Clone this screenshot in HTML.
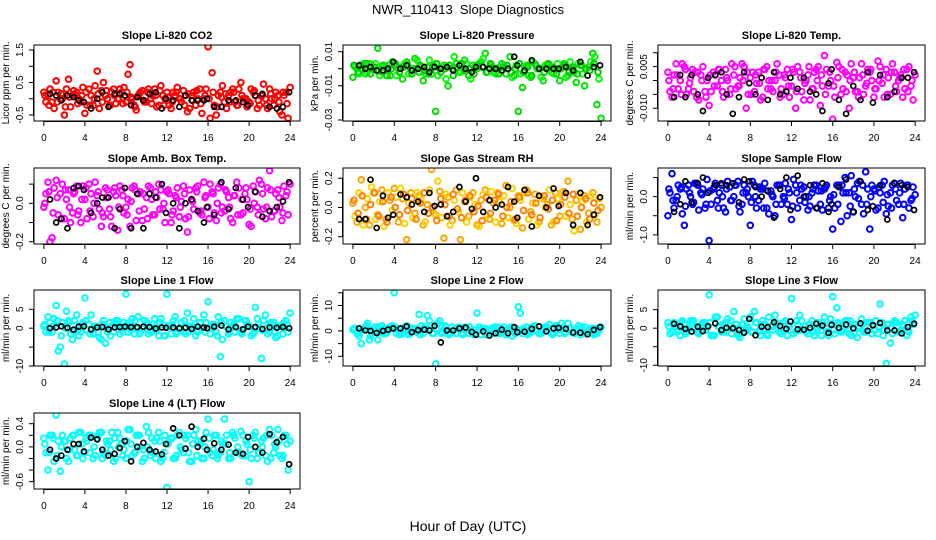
<!DOCTYPE html>
<html><head><meta charset="utf-8"><style>
body{margin:0;background:#fff}
svg{display:block;font-family:"Liberation Sans",sans-serif}
</style></head><body>
<svg id="chart" width="936" height="540" viewBox="0 0 936 540">
<text x="468" y="14" text-anchor="middle" font-size="13">NWR_110413&#160;&#160;Slope Diagnostics</text>
<text x="468" y="531" text-anchor="middle" font-size="14">Hour of Day (UTC)</text>
</svg>
<script>
const hoursA=[0,0.4,0.8,1.2,1.6,2,2.4,2.8,3.2,3.6,4,4.4,4.8,5.2,5.6,6,6.4,6.8,7.2,7.6,8,8.4,8.8,9.2,9.6,10,10.4,10.8,11.2,11.6,12,12.4,12.8,13.2,13.6,14,14.4,14.8,15.2,15.6,16,16.4,16.8,17.2,17.6,18,18.4,18.8,19.2,19.6,20,20.4,20.8,21.2,21.6,22,22.4,22.8,23.2,23.6,24];
const hoursB=[0.2,0.6,1,1.4,1.8,2.2,2.6,3,3.4,3.8,4.2,4.6,5,5.4,5.8,6.2,6.6,7,7.4,7.8,8.2,8.6,9,9.4,9.8,10.2,10.6,11,11.4,11.8,12.2,12.6,13,13.4,13.8,14.2,14.6,15,15.4,15.8,16.2,16.6,17,17.4,17.8,18.2,18.6,19,19.4,19.8,20.2,20.6,21,21.4,21.8,22.2,22.6,23,23.4,23.8];
const hoursC=[0.1,0.5,0.9,1.3,1.7,2.1,2.5,2.9,3.3,3.7,4.1,4.5,4.9,5.3,5.7,6.1,6.5,6.9,7.3,7.7,8.1,8.5,8.9,9.3,9.7,10.1,10.5,10.9,11.3,11.7,12.1,12.5,12.9,13.3,13.7,14.1,14.5,14.9,15.3,15.7,16.1,16.5,16.9,17.3,17.7,18.1,18.5,18.9,19.3,19.7,20.1,20.5,20.9,21.3,21.7,22.1,22.5,22.9,23.3,23.7];
const blackHours=[0.6,1.2,1.7,2.3,2.9,3.4,3.9,4.6,5.2,5.7,6.3,6.9,7.4,7.9,8.5,9.1,9.7,10.3,10.9,11.5,11.9,12.6,13.2,13.8,14.4,15.0,15.6,15.9,16.6,17.3,18.0,18.7,19.4,19.9,20.6,21.3,22.0,22.7,23.3,23.9];
const xTicks=[0,4,8,12,16,20,24];

const co2A=[0.2,0.1,-0.1,0.55,0.0,-0.5,0.6,0.1,0.2,-0.1,-0.45,0.3,-0.2,0.85,0.25,0.1,-0.2,0.3,0.0,0.2,-0.1,1.05,-0.2,0.1,0.25,-0.1,0.0,0.3,-0.2,0.1,0.2,-0.3,0.1,0.0,0.25,-0.4,0.1,-0.2,0.3,0.0,1.6,0.8,-0.5,0.2,-0.1,0.1,0.3,-0.2,0.5,0.0,-0.1,0.2,-0.3,0.1,0.0,0.3,-0.2,0.1,-0.5,0.2,0.35];
const co2B=[-0.1,0.3,-0.3,0.2,0.0,0.3,-0.25,0.15,0.0,0.35,-0.2,0.1,0.4,-0.3,0.5,0.0,0.2,-0.15,0.3,0.35,0.75,0.0,-0.35,0.2,-0.1,0.3,0.1,-0.25,0.4,0.0,-0.2,0.2,0.35,-0.1,0.1,-0.3,0.2,0.0,-0.45,0.3,-0.6,-0.2,0.1,0.4,-0.3,0.2,-0.1,0.3,0.0,-0.25,0.3,0.1,-0.2,0.45,-0.3,0.0,0.2,-0.4,0.1,-0.6];
const co2C=[0.1,-0.2,0.2,-0.1,0.15,-0.25,0.05,0.25,-0.15,0.1,0.2,-0.2,0.0,0.15,-0.1,0.25,-0.2,0.1,0.0,-0.15,0.2,0.05,-0.25,0.15,-0.05,0.2,-0.15,0.1,0.25,-0.2,0.05,-0.1,0.2,0.0,-0.2,0.15,-0.05,0.25,-0.15,0.1,0.0,0.2,-0.25,0.05,0.15,-0.1,0.2,-0.2,0.1,0.0,-0.15,0.25,-0.05,0.1,-0.2,0.15,0.0,-0.1,0.2,-0.15];
const co2K=[0.15,0.1,-0.05,0.1,0.05,-0.05,-0.1,-0.3,0.0,0.2,-0.25,0.15,0.15,0.1,-0.2,0.05,-0.05,0.15,0.2,-0.3,0.0,-0.05,-0.25,0.1,-0.05,-0.05,-0.05,0.0,-0.25,-0.25,-0.05,-0.05,-0.1,-0.2,0.1,0.15,-0.25,-0.3,-0.25,0.2];

const presA=[-0.005,0.0,0.002,-0.003,0.003,0.0,0.012,-0.002,0.001,-0.004,0.002,0.0,-0.006,0.004,0.0,0.006,-0.002,-0.007,0.001,-0.003,-0.025,0.0,0.002,-0.01,0.0,0.003,-0.002,0.005,-0.004,0.002,0.0,0.004,0.009,0.001,-0.002,0.0,0.003,-0.003,0.007,-0.004,-0.025,-0.011,0.002,-0.005,0.003,0.0,-0.007,0.002,-0.002,0.0,-0.007,0.003,-0.004,0.0,-0.008,0.002,-0.01,0.001,0.009,-0.021,-0.029];
const presB=[0.001,-0.003,0.003,-0.002,0.0,0.003,-0.004,0.001,0.002,0.004,-0.004,0.001,0.003,-0.003,0.0,0.005,0.001,-0.003,0.005,0.002,-0.004,0.001,-0.006,0.002,0.007,-0.002,0.0,0.003,-0.006,0.001,0.003,0.006,-0.002,0.002,-0.003,0.001,0.002,0.0,-0.005,0.002,-0.003,0.001,-0.004,0.004,0.0,-0.005,0.002,0.0,-0.003,0.003,0.001,-0.005,0.004,-0.002,0.003,-0.003,0.0,0.004,0.007,-0.006];
const presC=[0.002,-0.002,0.0,0.003,-0.003,0.001,-0.001,0.002,-0.004,0.0,0.003,-0.002,0.001,0.002,-0.003,0.0,0.002,-0.001,-0.003,0.001,0.003,-0.002,0.0,0.002,-0.004,0.001,0.003,-0.001,0.0,-0.003,0.002,0.001,-0.002,0.003,0.0,-0.003,0.001,0.002,-0.002,0.0,0.003,-0.002,0.001,-0.004,0.002,0.0,-0.002,0.003,0.001,-0.003,0.0,0.002,-0.002,0.001,-0.003,0.002,0.0,-0.001,0.003,-0.002];
const presK=[0.002,0.0,0.001,-0.001,-0.001,0.0,0.004,0.0,0.002,-0.001,0.0,0.001,-0.002,0.001,0.0,0.001,-0.001,0.002,0.0,-0.002,0.001,0.001,0.0,0.0,-0.001,0.0,0.007,0.002,-0.001,0.005,0.0,0.0,0.0,0.0,0.001,-0.001,0.004,-0.004,0.001,0.002];

const tempA=[0.003,-0.006,0.006,0.0,0.005,-0.003,0.004,-0.006,0.002,-0.004,-0.009,0.003,-0.002,0.0,0.004,-0.005,0.002,-0.002,0.006,-0.01,0.001,-0.004,0.003,-0.006,0.005,-0.003,0.0,0.002,-0.005,0.004,-0.002,-0.01,0.003,-0.007,0.002,-0.003,0.004,-0.009,0.009,-0.002,-0.014,0.0065,-0.005,0.003,-0.01,0.001,-0.004,0.006,-0.002,0.003,-0.006,0.007,-0.001,0.004,-0.005,0.003,0.0,-0.006,0.004,-0.002,0.002];
const tempB=[-0.004,0.002,-0.003,0.006,-0.005,0.001,0.003,-0.007,0.005,0.0,-0.004,0.002,0.004,-0.006,0.0,0.006,-0.003,0.001,0.005,-0.005,0.003,-0.001,-0.007,0.004,0.0,-0.004,0.006,-0.003,0.001,-0.006,0.003,0.005,-0.004,0.0,-0.007,0.003,0.005,-0.002,0.004,0.0,-0.006,0.005,-0.003,0.002,0.006,-0.004,0.001,-0.005,0.004,0.0,-0.003,0.005,-0.006,0.001,0.006,-0.004,0.002,-0.003,0.005,-0.007];
const tempC=[0.0,-0.003,0.002,-0.005,0.004,-0.001,-0.004,0.003,0.0,-0.006,0.002,-0.002,0.004,-0.004,0.001,-0.003,0.005,-0.002,0.0,0.003,-0.005,0.002,-0.001,0.004,-0.003,0.0,0.003,-0.006,0.002,-0.002,0.004,-0.004,0.001,-0.001,0.005,-0.003,0.0,0.002,-0.005,0.003,-0.002,0.001,0.004,-0.004,0.0,0.003,-0.006,0.002,-0.001,0.004,-0.003,0.0,0.002,-0.005,0.003,-0.002,0.001,0.004,-0.004,0.0];
const tempK=[-0.006,0.002,-0.006,0.002,-0.005,-0.011,0.001,0.002,0.003,-0.005,-0.012,-0.006,0.003,-0.001,-0.005,0.001,-0.007,0.003,-0.005,-0.004,0.001,-0.003,0.001,-0.004,-0.005,-0.011,-0.001,0.004,-0.007,-0.012,-0.002,-0.007,0.003,-0.008,0.002,-0.006,-0.004,0.001,0.001,0.003];

const ambA=[-0.02,0.11,-0.18,0.12,0.05,-0.08,0.07,-0.05,0.09,-0.1,0.02,0.1,-0.07,0.04,-0.12,0.08,-0.03,0.06,-0.14,0.07,-0.02,-0.12,0.09,0.05,-0.09,0.03,0.08,-0.06,0.1,-0.03,0.06,-0.1,0.04,-0.07,0.09,-0.15,0.02,0.08,-0.05,0.11,-0.02,0.06,-0.09,0.1,-0.04,0.03,-0.1,0.11,-0.06,0.05,-0.11,0.09,-0.02,0.1,-0.08,0.17,-0.04,0.07,-0.09,0.04,0.1];
const ambB=[0.05,-0.2,0.08,-0.06,0.1,0.02,-0.1,0.06,-0.04,0.09,-0.08,0.05,0.11,-0.03,-0.07,0.07,-0.12,0.04,0.09,-0.05,0.02,0.08,-0.09,0.06,-0.03,0.09,-0.06,0.03,0.07,-0.1,0.05,-0.04,0.08,0.01,-0.08,0.07,-0.03,0.09,-0.06,0.04,0.1,-0.05,0.08,-0.02,0.06,-0.08,0.04,0.08,-0.05,0.02,-0.12,0.06,0.12,-0.03,0.08,-0.07,0.05,-0.02,0.09,-0.06];
const ambC=[0.0,0.06,-0.05,0.03,-0.08,0.07,-0.02,0.05,-0.06,0.02,0.08,-0.04,0.0,0.06,-0.05,0.03,-0.07,0.08,-0.02,0.04,-0.06,0.01,0.07,-0.04,0.05,-0.08,0.02,0.06,-0.03,0.0,0.07,-0.06,0.03,-0.02,0.05,-0.07,0.01,0.06,-0.04,0.03,-0.08,0.05,0.0,-0.05,0.07,-0.02,0.04,-0.06,0.02,0.08,-0.03,0.0,-0.06,0.05,-0.02,0.07,-0.04,0.03,-0.05,0.06];
const ambK=[0.02,-0.1,-0.08,-0.13,0.08,0.09,0.07,-0.05,0.0,0.03,0.03,-0.13,-0.03,0.08,-0.13,0.05,-0.13,0.05,0.03,0.1,-0.05,0.0,-0.13,0.0,0.02,-0.04,-0.1,-0.02,-0.06,0.11,-0.03,0.08,0.02,-0.02,0.06,-0.07,-0.04,-0.02,0.01,0.11];

const rhA=[0.03,-0.1,0.19,0.0,-0.12,0.1,-0.05,0.12,-0.08,0.05,0.13,-0.1,0.06,-0.22,0.1,-0.04,0.08,-0.12,0.02,0.26,-0.05,0.11,-0.21,0.07,-0.09,0.12,-0.22,0.04,-0.06,0.1,-0.12,0.05,0.12,-0.08,0.03,0.1,-0.11,0.15,0.0,-0.09,0.08,-0.14,0.12,-0.03,0.09,-0.1,0.06,0.02,-0.12,0.1,-0.06,0.11,0.18,-0.08,0.05,-0.15,0.08,-0.04,0.1,-0.1,0.0];
const rhB=[-0.06,0.1,-0.12,0.06,0.14,-0.08,0.04,-0.13,0.1,-0.02,0.07,0.13,-0.11,0.03,-0.07,0.1,0.05,-0.1,0.12,-0.04,0.18,-0.07,0.09,-0.12,0.05,-0.03,0.1,-0.1,0.07,0.02,-0.13,0.09,-0.06,0.11,-0.1,0.04,0.08,-0.07,0.13,-0.11,0.05,0.1,-0.08,0.03,-0.12,0.07,0.0,0.12,-0.1,0.06,0.1,-0.06,0.02,-0.16,0.09,0.04,-0.1,0.08,-0.05,0.06];
const rhC=[0.05,-0.04,0.08,-0.08,0.02,0.1,-0.06,0.04,-0.1,0.07,0.0,-0.05,0.09,-0.02,0.06,-0.08,0.03,0.1,-0.04,0.0,-0.09,0.06,0.02,-0.06,0.09,-0.01,-0.07,0.05,0.08,-0.03,0.01,-0.09,0.07,-0.04,0.05,0.09,-0.06,0.0,0.04,-0.08,0.07,-0.02,0.1,-0.05,0.03,-0.07,0.08,-0.01,0.05,-0.09,0.02,0.07,-0.04,0.09,-0.06,0.0,0.06,-0.08,0.03,-0.02];
const rhK=[-0.08,-0.08,0.19,-0.14,0.08,-0.07,-0.05,0.09,0.07,0.02,0.04,-0.03,0.1,0.01,0.02,-0.06,-0.03,0.14,0.04,-0.01,0.2,-0.03,0.05,0.0,0.02,0.14,0.04,-0.07,0.12,-0.13,0.08,0.0,0.13,0.01,0.1,-0.12,0.1,-0.12,-0.05,0.07];

const sfA=[-0.5,0.6,-0.1,0.2,-0.75,0.3,-0.2,0.35,0.1,-0.3,-1.15,0.2,-0.1,0.3,-0.4,0.25,0.0,0.4,-0.2,0.1,-0.75,0.3,-0.1,0.2,-0.3,0.15,-0.5,0.3,0.0,-0.2,-0.6,0.3,-0.1,0.25,-0.35,0.1,0.3,-0.2,0.2,-0.3,-0.85,0.3,-0.65,0.5,0.1,-0.4,0.35,-0.2,0.65,-0.85,0.2,-0.3,0.3,-0.45,0.1,0.35,-0.2,-0.55,0.3,-0.1,0.05];
const sfB=[0.1,-0.3,0.3,-0.45,0.2,0.0,0.35,-0.35,0.2,0.45,-0.2,0.35,0.1,-0.3,0.4,-0.1,0.3,-0.4,0.3,0.0,0.4,-0.3,0.2,0.35,-0.45,0.0,0.3,-0.2,0.35,0.1,0.45,-0.3,0.2,0.0,-0.25,0.3,0.15,-0.35,0.3,0.0,-0.3,0.3,0.1,-0.5,0.55,0.0,0.4,-0.45,0.2,0.3,-0.35,0.1,0.4,-0.25,0.3,-0.1,0.35,0.2,-0.3,0.25];
const sfC=[0.2,-0.1,0.0,0.25,-0.25,0.1,-0.15,0.3,0.05,-0.2,0.15,0.25,-0.3,0.0,0.2,-0.1,0.3,-0.25,0.1,0.2,-0.15,0.0,0.25,-0.3,0.15,0.05,-0.2,0.3,-0.05,0.2,-0.25,0.1,0.3,-0.15,0.0,0.2,-0.3,0.15,0.25,-0.1,0.05,-0.2,0.3,0.1,-0.25,0.2,-0.05,0.3,-0.2,0.0,0.15,0.25,-0.15,0.05,-0.3,0.2,0.1,-0.2,0.3,-0.05];
const sfK=[-0.4,-0.2,0.4,-0.15,0.35,0.5,0.1,0.3,0.35,0.3,0.35,-0.15,0.45,0.4,0.25,0.0,0.15,-0.55,0.2,0.5,-0.35,0.55,0.0,0.3,-0.3,0.35,-0.4,-0.2,0.25,0.45,-0.4,0.4,-0.35,-0.25,0.3,-0.6,0.35,0.3,0.25,-0.35];

const l1A=[0.5,3,-1,6,-5,-9.5,2,-3,3.5,-1,8,1,-1.5,0.5,-3,-4,1.5,-1,2,0,9,1.5,-1.5,3,0,1.5,-1,2.5,-2,1,9,-1.5,3,0,-1,4,0.5,-2,1.5,3.5,7,0,-1,-7.5,2,-1.5,0.5,2.5,-1,2,0.5,-1.5,2.5,-8,3.5,-1,1.5,-2,0.5,2,4];
const l1B=[-1,1.5,2.5,-6,1.5,4.5,-1.5,2,-2,1.5,-0.5,3.5,0,-2.5,2,-1,0.5,2,-1.5,1.5,-1,2.5,0,-1,2,-1.5,1,-0.5,2.5,-2,0.5,2,-1,1.5,-1.5,0.5,2.5,-1,0,1.5,-1.5,1,3,-3,0.5,1.5,-1,2.5,-0.5,1,-2,5.5,0,2,-1.5,1,-2.5,0.5,1.5,-1];
const l1C=[1,-1,0.5,2,-2,0,1.5,-1,-0.5,1,2,-1.5,0.5,-1,1,0,-2,1.5,0.5,-1,1,-0.5,2,-1.5,0,1,-1,0.5,1.5,-2,0.5,1,-1.5,0,2,-1,0.5,-0.5,1.5,-1,0,1,-2,1.5,0.5,-1,1,0,-1.5,2,0.5,-1,1,-0.5,0,1.5,-1,0.5,-1.5,1];
const l1K=[0,0.2,0.5,0.1,-0.4,0.4,0.5,-0.3,0.2,0.3,-0.3,0.2,0.3,0.4,0.3,0.3,0.4,0.3,-0.1,0.2,0.1,0.2,0.0,0.1,-0.2,0.4,0.2,0.0,0.4,0.7,-0.3,0.3,-0.3,0.4,0.3,-0.2,0.2,0.1,0.3,0.0];

const l2A=[0.5,-1,-5,1.5,-3.5,1,-3.5,2,-1,1.5,15,0.5,-1,2,-0.5,1,6.5,-1,6,2,-13,4,0.5,-1,1.5,-1,0.5,1.5,-1,0.5,7,-1.5,1,0.5,-1,1.5,-0.5,-1.5,1,0.5,9.5,-1,1.5,-0.5,2,-1,0.5,1.5,-1,2,-1,1.5,3,-0.5,1,-1.5,1.5,-0.5,1,-1,1.5];
const l2B=[1,-2,0.5,3,-1,1.5,-0.5,1,0,2,-1,0.5,1.5,-1.5,1,-0.5,2,0.5,4,-1,3,-1,1.5,-1,0.5,1.5,-1.5,1,0,-1,1.5,0,-1.5,1,0.5,-1,1.5,0.5,-2,1,7,0.5,-1,1.5,0,-1,1.5,2.5,-1,1.5,3,-0.5,1,-1,2,0.5,-1,1,-1,0.5];
const l2C=[1,-1,0.5,2,-2,0,1.5,-1,-0.5,1,1.5,-1.5,0.5,-1,1,0,-1.5,1.5,0.5,-1,1,-0.5,2,-1.5,0,1,-1,0.5,1.5,-1.5,0.5,1,-1.5,0,1.5,-1,0.5,-0.5,1.5,-1,0,1,-1.5,1.5,0.5,-1,1,0,-1.5,2,0.5,-1,1,-0.5,0,1.5,-1,0.5,-1.5,1];
const l2K=[1,0.2,0,-0.8,0,0.5,1,1,1.8,-0.5,0.3,0.5,0.2,2,-4.5,0.2,0.2,1,1.3,-0.4,-1.5,-0.2,-1.8,-0.9,0.5,-0.9,1.5,-0.5,-0.3,0.8,1.8,-0.2,1,1.2,0.8,-0.6,-0.7,-1.3,0.4,1.5];

const l3A=[1.5,-1,0.5,-2,1,-0.5,2,-1,0.5,1.5,9,-2,3,-1,1.5,0.5,4.5,-2,1,-0.5,3,4.5,-1,2,-1.5,0.5,3.5,-1,1.5,-2,8,-1,3.5,0.5,-1.5,2,-0.5,1,3,-2,8.5,5.5,-1,2,-1.5,1,-2.5,2.5,-1,1.5,-0.5,-1.5,1.5,-9.5,-4,2,-1,1,-2,3,3.5];
const l3B=[-1.5,1.5,-0.5,2,-1,2,0,-1.5,1.5,0.5,-2,3,0.5,-1,2.5,-1.5,1,-2.5,2.5,0,-1,1.5,-2,1,3,-0.5,1,-1.5,2,0.5,-1.5,1,2,-1,1,-2,0,1.5,-1,2.5,-1.5,1,-0.5,2,-2,1,0.5,-1,1.5,-1.5,2,6.5,-0.5,1,-1.5,1.5,-0.5,2,-1,1];
const l3C=[0.5,1,-1,1.5,-1.5,0,2,-1,1,-0.5,1.5,-2,0.5,1,-1,2,0,-1.5,1,0.5,-1,1.5,-0.5,1,-2,0.5,1.5,-1,0,1,-1.5,2,-0.5,0.5,1,-1,1.5,-2,0,1,-0.5,1.5,-1,0.5,2,-1.5,0,1,-1,1.5,-0.5,0.5,-2,1,0,1.5,-1,0.5,-0.5,2];
const l3K=[1.2,0.5,-0.2,-0.9,0.4,-0.8,0.5,1.3,-0.5,0.1,0.0,-0.5,-1.2,2.5,-1.9,0.4,0.3,1.6,0.6,-0.2,1.8,-0.3,-0.4,0.1,1.2,0.7,-1.3,0.9,0.1,1.0,0.0,1.3,-0.7,0.8,1.4,-0.6,-0.6,-1.4,0.3,1.2];

const l4A=[0.15,-0.4,0.2,0.55,-0.42,0.1,-0.25,0.2,-0.15,0.25,-0.1,0.2,-0.2,0.15,0.25,-0.15,0.1,-0.25,0.25,0.05,-0.2,0.3,-0.1,0.2,-0.25,0.35,-0.15,0.1,0.25,-0.2,-0.7,0.15,-0.2,0.25,-0.1,0.2,-0.25,0.3,0.05,-0.2,0.48,-0.15,0.2,-0.1,0.48,-0.2,0.25,-0.1,0.27,-0.15,-0.6,0.2,-0.2,0.1,-0.15,0.3,-0.1,0.3,-0.2,0.2,0.1];
const l4B=[-0.1,0.2,-0.25,0.1,0.2,-0.2,0.15,-0.05,0.25,-0.2,0.1,0.2,-0.15,0.25,-0.1,0.05,0.25,-0.2,0.15,-0.05,0.3,-0.15,0.2,0.0,-0.2,0.25,-0.1,0.15,-0.25,0.2,0.1,-0.2,0.2,-0.05,0.15,-0.25,0.2,0.1,-0.2,0.25,-0.1,0.2,-0.15,0.05,0.2,-0.2,0.15,-0.1,0.2,0.05,-0.2,0.25,-0.1,0.15,-0.25,0.2,0.0,-0.15,0.2,-0.4];
const l4C=[0.05,-0.1,0.15,-0.15,0.0,0.1,-0.05,0.2,-0.15,0.05,0.15,-0.1,0.0,0.2,-0.2,0.1,-0.05,0.15,0.0,-0.15,0.1,0.05,-0.1,0.2,-0.05,0.0,0.15,-0.2,0.1,-0.1,0.05,0.15,-0.15,0.0,0.2,-0.1,0.05,-0.15,0.1,0.0,0.15,-0.05,-0.2,0.1,0.05,-0.1,0.2,0.0,-0.15,0.1,-0.05,0.15,-0.1,0.0,0.2,-0.2,0.05,0.1,-0.15,0.05];
const l4K=[-0.05,-0.2,-0.15,-0.05,0.05,0.05,-0.08,0.16,0.13,-0.05,-0.15,-0.12,-0.02,0.1,-0.25,0.0,0.07,-0.05,-0.08,-0.13,0.05,0.32,0.2,-0.03,0.35,0.0,0.14,-0.05,0.06,-0.05,0.04,-0.1,-0.12,0.17,0.0,-0.1,0.22,0.08,0.17,-0.3];

const panels=[
 {name:"co2",title:"Slope Li-820 CO2",ylab:"Licor ppm per min.",col:0,row:0,ymin:-0.685,ymax:1.654,ticks:[-0.5,0,0.5,1,1.5],labels:["-0.5","","0.5","","1.5"],a:co2A,b:co2B,c:co2C,k:co2K,ca:"#ff0000",cb:"#ff0000",cc:"#ff0000"},
 {name:"pressure",title:"Slope Li-820 Pressure",ylab:"kPa per min.",col:1,row:0,ymin:-0.0306,ymax:0.0139,ticks:[-0.03,-0.02,-0.01,0,0.01],labels:["-0.03","","-0.01","","0.01"],a:presA,b:presB,c:presC,k:presK,ca:"#00e000",cb:"#00ff00",cc:"#00cc00"},
 {name:"temp",title:"Slope Li-820 Temp.",ylab:"degrees C per min.",col:2,row:0,ymin:-0.0146,ymax:0.0128,ticks:[-0.01,-0.005,0,0.005,0.01],labels:["-0.010","","","0.005",""],a:tempA,b:tempB,c:tempC,k:tempK,ca:"#ff00ff",cb:"#ff00ff",cc:"#ff00ff"},
 {name:"amb-box-temp",title:"Slope Amb. Box Temp.",ylab:"degrees C per min.",col:0,row:1,ymin:-0.212,ymax:0.184,ticks:[-0.2,-0.1,0,0.1],labels:["-0.2","","0.0",""],a:ambA,b:ambB,c:ambC,k:ambK,ca:"#ff00ff",cb:"#ff00ff",cc:"#ff00ff"},
 {name:"gas-stream-rh",title:"Slope Gas Stream RH",ylab:"percent per min.",col:1,row:1,ymin:-0.25,ymax:0.27,ticks:[-0.2,-0.1,0,0.1,0.2],labels:["-0.2","","0.0","","0.2"],a:rhA,b:rhB,c:rhC,k:rhK,ca:"#ffa500",cb:"#ffd000",cc:"#ff7f00"},
 {name:"sample-flow",title:"Slope Sample Flow",ylab:"ml/min per min.",col:2,row:1,ymin:-1.24,ymax:0.75,ticks:[-1,-0.5,0,0.5],labels:["-1.0","","0.0",""],a:sfA,b:sfB,c:sfC,k:sfK,ca:"#0000ff",cb:"#0000ff",cc:"#0000ff"},
 {name:"line1-flow",title:"Slope Line 1 Flow",ylab:"ml/min per min.",col:0,row:2,ymin:-10.0,ymax:10.1,ticks:[-10,-5,0,5],labels:["-10","","0","5"],a:l1A,b:l1B,c:l1C,k:l1K,ca:"#00ffff",cb:"#00ffff",cc:"#00ffff"},
 {name:"line2-flow",title:"Slope Line 2 Flow",ylab:"ml/min per min.",col:1,row:2,ymin:-13.8,ymax:16.1,ticks:[-10,-5,0,5,10,15],labels:["-10","","0","","10",""],a:l2A,b:l2B,c:l2C,k:l2K,ca:"#00ffff",cb:"#00ffff",cc:"#00ffff"},
 {name:"line3-flow",title:"Slope Line 3 Flow",ylab:"ml/min per min.",col:2,row:2,ymin:-10.2,ymax:10.3,ticks:[-10,-5,0,5],labels:["-10","","0","5"],a:l3A,b:l3B,c:l3C,k:l3K,ca:"#00ffff",cb:"#00ffff",cc:"#00ffff"},
 {name:"line4-flow",title:"Slope Line 4 (LT) Flow",ylab:"ml/min per min.",col:0,row:3,ymin:-0.727,ymax:0.585,ticks:[-0.6,-0.4,-0.2,0,0.2,0.4],labels:["-0.6","","","0.0","","0.4"],a:l4A,b:l4B,c:l4C,k:l4K,ca:"#00ffff",cb:"#00ffff",cc:"#00ffff"}
];
const colX=[[34,300],[343,611],[658,925]];
const rowY=[[45,121],[168,244],[290,366],[413,489]];
const NS="http://www.w3.org/2000/svg";
const svg=document.getElementById("chart");
function mk(tag,attrs,parent){const e=document.createElementNS(NS,tag);for(const k in attrs)e.setAttribute(k,attrs[k]);(parent||svg).appendChild(e);return e;}

panels.forEach(p=>{
  const [x0,x1]=colX[p.col],[y0,y1]=rowY[p.row];
  const xs=h=>x0+(h+0.96)/25.92*(x1-x0);
  const ys=v=>y1-(v-p.ymin)/(p.ymax-p.ymin)*(y1-y0);
  const g=mk("g",{});
  
  
  const clip=mk("clipPath",{id:"c-"+p.name},g);
  mk("rect",{x:x0,y:y0,width:x1-x0,height:y1-y0},clip);
  const pts=mk("g",{"clip-path":"url(#c-"+p.name+")"},g);
  
  
  const series=[[hoursA,p.a,p.ca],[hoursB,p.b,p.cb],[hoursC,p.c,p.cc]];
  series.forEach(([hs,vs,col])=>{
    const n=Math.min(hs.length,vs.length);
    for(let i=0;i<n;i++){
      const c=mk("circle",{cx:xs(hs[i]),cy:ys(vs[i]),r:2.8,fill:"none",stroke:col,"stroke-width":2},pts);
      
      
    }
  });
  const n3=Math.min(blackHours.length,p.k.length);
  for(let i=0;i<n3;i++){
    const c=mk("circle",{cx:xs(blackHours[i]),cy:ys(p.k[i]),r:2.5,fill:"none",stroke:"#000","stroke-width":1.7},pts);
    
    
  }
  const box=mk("rect",{x:x0,y:y0,width:x1-x0,height:y1-y0,fill:"none",stroke:"#000","stroke-width":1},g);
  
  
  const t=mk("text",{x:(x0+x1)/2,y:y0-6,"text-anchor":"middle","font-size":11,"font-weight":"bold"},g);
  t.textContent=p.title;
  
  
  mk("line",{x1:xs(0),x2:xs(24),y1:y1+0.5,y2:y1+0.5,stroke:"#000"},g);
  xTicks.forEach(h=>{
    mk("line",{x1:xs(h),x2:xs(h),y1:y1,y2:y1+5,stroke:"#000"},g);
    const l=mk("text",{x:xs(h),y:y1+20,"text-anchor":"middle","font-size":10},g);
    l.textContent=h;
    
    
  });
  const tv=p.ticks.filter(v=>v>=p.ymin&&v<=p.ymax);
  mk("line",{x1:x0-0.5,x2:x0-0.5,y1:ys(tv[0]),y2:ys(tv[tv.length-1]),stroke:"#000"},g);
  p.ticks.forEach((v,i)=>{
    if(v<p.ymin||v>p.ymax)return;
    const y=ys(v);
    mk("line",{x1:x0-5,x2:x0,y1:y,y2:y,stroke:"#000"},g);
    if(p.labels[i]){
      const l=mk("text",{x:x0-11,y:y,"text-anchor":"middle","font-size":10,transform:"rotate(-90 "+(x0-11)+" "+y+")"},g);
      l.textContent=p.labels[i];
      
      
    }
  });
  const yc=(y0+y1)/2;
  const yl=mk("text",{x:x0-25,y:yc,"text-anchor":"middle","font-size":10,transform:"rotate(-90 "+(x0-25)+" "+yc+")"},g);
  yl.textContent=p.ylab;
  
  
});
</script>
</body></html>
